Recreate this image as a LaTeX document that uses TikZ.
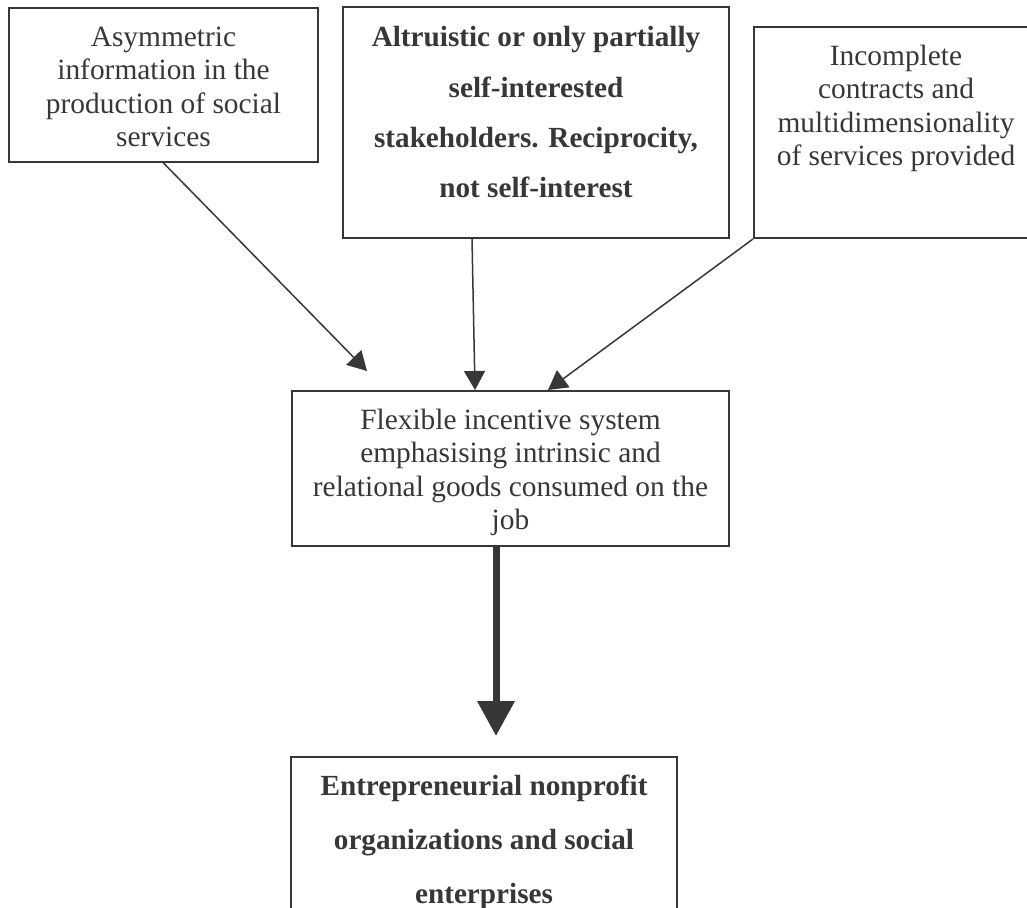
\documentclass[tikz,border=0pt]{standalone}
\usepackage{fontspec}
\setmainfont{Liberation Serif}
\usetikzlibrary{arrows.meta,calc}
\definecolor{ink}{RGB}{55,55,58}
\tikzset{
  box/.style={draw=ink, line width=1pt, rectangle, inner sep=0pt},
  txt/.style={text=ink, align=center, anchor=base, inner sep=0pt, font=\fontsize{14.7}{16.8}\selectfont},
  btxt/.style={text=ink, align=center, anchor=base, inner sep=0pt, font=\fontsize{14.6}{25.2}\selectfont\bfseries},
  thin/.style={draw=ink, line width=0.75pt, -{Triangle[length=9.5pt,width=10.5pt]}},
  thick/.style={draw=ink, line width=3.5pt, -{Triangle[length=17.5pt,width=18pt]}}
}
\begin{document}
\begin{tikzpicture}[x=0.5pt,y=-0.5pt]
\useasboundingbox (0,0) rectangle (1027,908);
\clip (0,0) rectangle (1027,908);
% boxes
\node[box, minimum width=309*0.5pt, minimum height=154*0.5pt] (b1) at (163.5,85) {};
\node[box, minimum width=386*0.5pt, minimum height=231*0.5pt] (b2) at (536,122.5) {};
\node[box, minimum width=284*0.5pt, minimum height=211*0.5pt] (b3) at (896,132.5) {};
\node[box, minimum width=437*0.5pt, minimum height=155*0.5pt] (b4) at (510.5,468.5) {};
\node[box, minimum width=386*0.5pt, minimum height=200*0.5pt] (b5) at (484,857) {};
% texts (anchored at the baseline of their last line)
\node[txt] (t1) at (163.5,147) {Asymmetric\\information in the\\production of social\\services};
\node[btxt] (t2) at (536,198) {Altruistic or only partially\\self-interested\\stakeholders. Reciprocity,\\not self-interest};
\node[txt] (t3) at (896,166) {Incomplete\\contracts and\\multidimensionality\\of services provided};
\node[txt] (t4) at (510.5,530) {Flexible incentive system\\emphasising intrinsic and\\relational goods consumed on the\\job};
\node[btxt, font=\fontsize{14.6}{27}\selectfont\bfseries] (t5) at (484,903) {Entrepreneurial nonprofit\\organizations and social\\enterprises};
% connectors
\coordinate (e1) at ($(b4.north west)+(76,-19)$);
\draw[thin] (b1.south) -- (e1);
\draw[thin] ($(b2.south west)+(130,0)$) -- ($(b4.north west)+(184,0)$);
\draw[thin] (b3.south west) -- ($(b4.north west)+(257,0)$);
\draw[thick] ($(b4.south west)+(205,0)$) -- ($(b5.north west)+(206,-20)$);
\end{tikzpicture}
\end{document}
